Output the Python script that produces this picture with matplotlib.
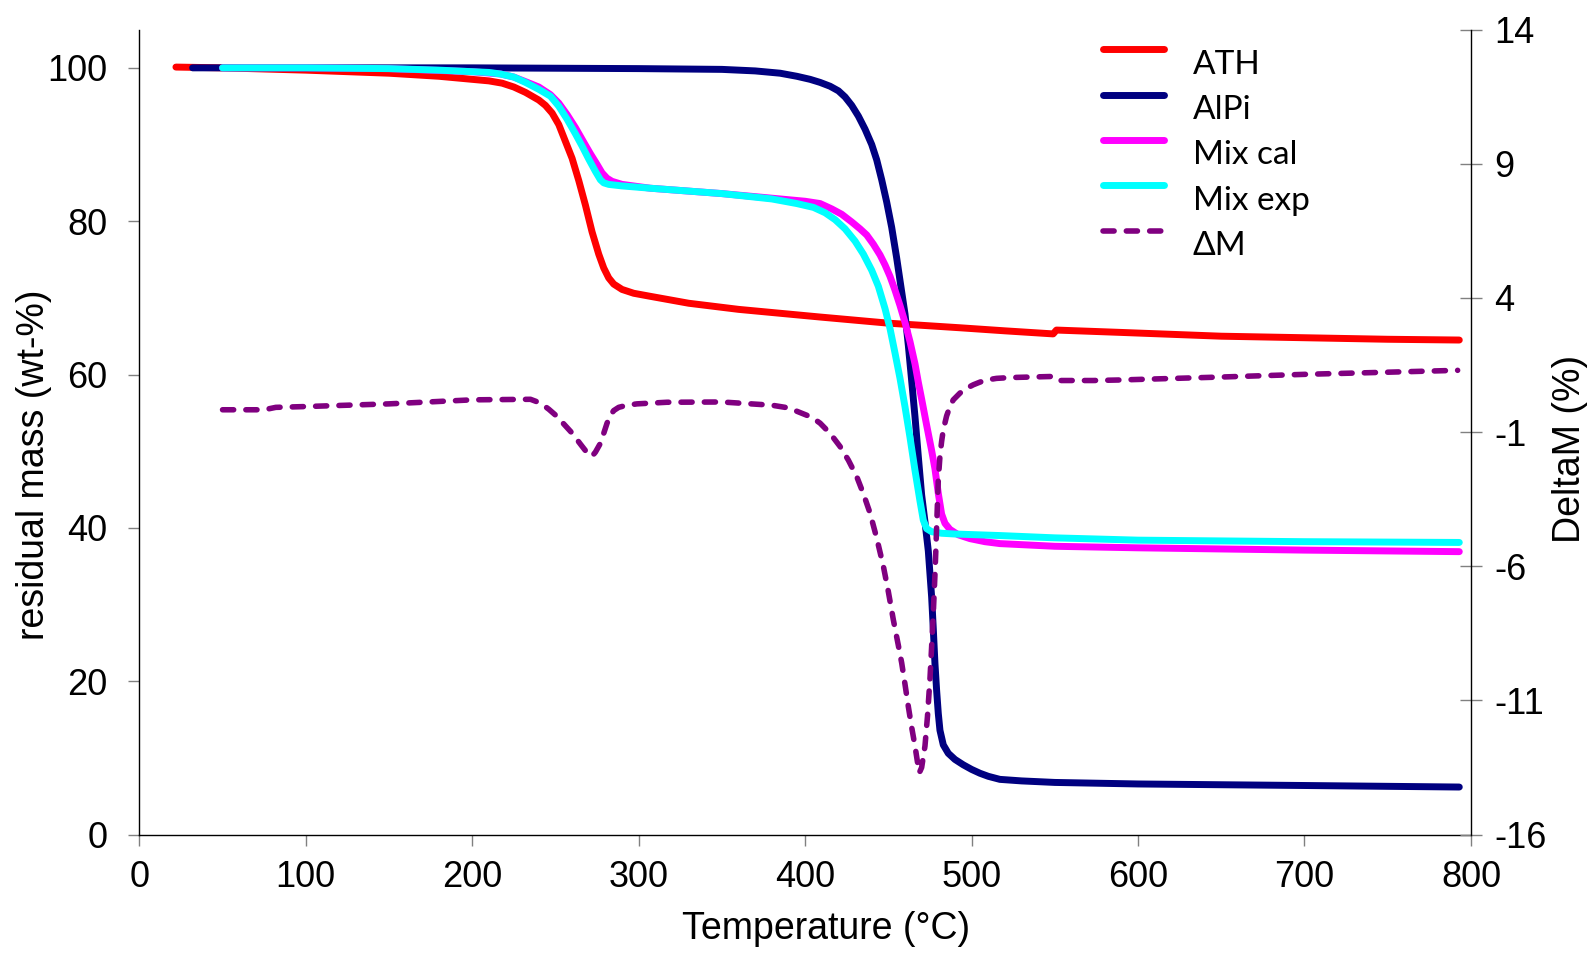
import numpy as np
import matplotlib
matplotlib.use("Agg")
import matplotlib.pyplot as plt
from matplotlib.legend_handler import HandlerLine2D
from matplotlib.lines import Line2D

plt.rcParams["axes.unicode_minus"] = False

# Thermogravimetric curves (residual mass, wt-%)
ath_T = [22, 50, 100, 150, 180, 200, 210, 218, 225, 232, 236, 240, 244, 248, 252, 256,
         260, 264, 268, 272, 276, 279, 282, 285, 290, 297, 307, 330, 360, 409, 450, 493,
         520, 549, 551, 589, 650, 700, 750, 793]
ath_m = [100.1, 100.0, 99.7, 99.3, 98.9, 98.5, 98.3, 98.0, 97.5, 96.8, 96.3, 95.8, 95.1,
         94.1, 92.6, 90.4, 88.2, 85.3, 82.1, 78.6, 75.7, 73.9, 72.6, 71.8, 71.1, 70.6,
         70.2, 69.3, 68.5, 67.5, 66.7, 66.1, 65.7, 65.3, 65.8, 65.5, 65.0, 64.8, 64.6, 64.5]

alpi_T = [32, 100, 200, 300, 350, 370, 385, 395, 403, 409, 415, 420, 424, 428, 432, 436,
          440, 443, 446, 449, 452, 455, 458, 460, 462, 464, 466, 468, 470, 472, 474, 476,
          477, 478, 479, 480, 481, 483, 486, 490, 495, 500, 505, 510, 517, 530, 550, 600,
          700, 793]
alpi_m = [100.0, 100.0, 100.0, 99.9, 99.8, 99.6, 99.3, 98.9, 98.5, 98.1, 97.6, 97.0,
          96.2, 95.1, 93.7, 92.0, 90.0, 88.0, 85.4, 82.5, 79.2, 75.2, 70.8, 67.9, 63.8,
          59.2, 54.5, 49.3, 44.3, 40.8, 37.0, 31.0, 26.8, 22.3, 18.8, 15.8, 13.6, 11.7,
          10.6, 9.8, 9.1, 8.5, 8.0, 7.6, 7.2, 7.0, 6.8, 6.6, 6.4, 6.2]

mixcal_T = [50, 100, 150, 200, 217, 225, 232, 240, 247, 252, 257, 262, 267, 271, 275, 278,
            281, 284, 290, 307, 350, 380, 400, 409, 416, 422, 428, 433, 437, 441, 445, 448,
            451, 454, 457, 460, 463, 466, 468, 470, 473, 476, 478, 480, 482, 484, 487, 492,
            499, 508, 517, 550, 600, 700, 793]
mixcal_m = [100.0, 100.0, 99.9, 99.5, 99.2, 98.8, 98.2, 97.5, 96.5, 95.4, 93.9, 92.2,
            90.3, 88.8, 87.4, 86.3, 85.6, 85.2, 84.8, 84.3, 83.6, 83.0, 82.6, 82.3, 81.6,
            80.9, 79.9, 79.0, 78.2, 77.0, 75.6, 74.3, 72.8, 71.0, 69.0, 66.8, 64.3, 61.4,
            59.0, 56.8, 53.4, 50.1, 47.7, 44.5, 41.8, 40.6, 39.8, 39.1, 38.6, 38.2, 37.95,
            37.6, 37.4, 37.1, 36.9]

mixexp_T = [50, 100, 150, 180, 200, 210, 217, 225, 232, 240, 247, 252, 257, 262, 266, 270,
            274, 277, 279, 282, 290, 307, 350, 380, 395, 405, 412, 418, 424, 430, 435, 440,
            444, 448, 451, 454, 457, 460, 463, 466, 469, 471, 473, 476, 482, 490, 517, 550,
            600, 700, 793]
mixexp_m = [100.0, 100.0, 99.9, 99.7, 99.5, 99.4, 99.2, 98.8, 98.1, 97.2, 96.3, 95.0,
            93.3, 91.4, 89.8, 88.1, 86.5, 85.4, 85.0, 84.8, 84.6, 84.3, 83.6, 82.9, 82.3,
            81.8, 81.1, 80.2, 79.0, 77.4, 75.7, 73.6, 71.5, 68.6, 66.0, 62.8, 59.5, 55.8,
            51.8, 47.5, 43.5, 41.0, 39.9, 39.5, 39.3, 39.2, 39.0, 38.7, 38.4, 38.2, 38.1]

# Difference between measured and calculated mixture (%)
dm_T = [50, 75, 82, 100, 150, 200, 235, 241, 246, 251, 255, 260, 265, 270, 272, 274, 277,
        279, 281, 283, 285, 288, 293, 299, 317, 350, 380, 390, 398, 404, 409, 415, 421,
        426, 431, 435, 439, 443, 447, 450, 453, 456, 458, 460, 462, 464, 466, 467.5, 468.6,
        470, 471, 472, 473.5, 475, 476, 477, 478, 478.6, 479.3, 480, 481, 482, 483, 485,
        487, 489, 493, 497, 501, 505, 509, 515, 523, 548, 551, 573, 589, 650, 700, 750, 792]
dm_v = [-0.17, -0.17, -0.08, -0.05, 0.05, 0.2, 0.22, 0.08, -0.15, -0.42, -0.7, -1.04,
        -1.45, -1.85, -1.9, -1.75, -1.42, -1.05, -0.67, -0.38, -0.2, -0.08, 0.0, 0.05,
        0.11, 0.12, 0.0, -0.1, -0.3, -0.45, -0.67, -1.05, -1.54, -2.05, -2.66, -3.3, -4.02,
        -4.95, -6.0, -6.95, -8.0, -8.95, -9.6, -10.4, -11.23, -12.0, -12.7, -13.3, -13.7,
        -13.5, -13.1, -12.7, -11.6, -10.2, -9.0, -7.75, -6.3, -5.27, -4.0, -2.78, -1.9,
        -1.35, -0.92, -0.4, -0.05, 0.2, 0.45, 0.63, 0.76, 0.86, 0.94, 1.0, 1.03, 1.07,
        0.92, 0.92, 0.94, 1.05, 1.15, 1.23, 1.3]

x_ticks = list(range(0, 801, 100))
left_ticks = list(range(0, 101, 20))
right_ticks = list(range(-16, 15, 5))

ARIAL = "Liberation Sans"

fig = plt.figure(figsize=(15.94, 9.55), dpi=100)
ax = fig.add_axes([0.0874, 0.1261, 0.8354, 0.8430])
ax2 = ax.twinx()

common = dict(lw=5, solid_capstyle="round", solid_joinstyle="round")
ax.plot(ath_T, ath_m, color="#FF0000", label="ATH", **common)
ax.plot(alpi_T, alpi_m, color="#000080", label="AlPi", **common)
ax.plot(mixcal_T, mixcal_m, color="#FF00FF", label="Mix cal", **common)
ax.plot(mixexp_T, mixexp_m, color="#00FFFF", label="Mix exp", **common)
ax2.plot(dm_T, dm_v, color="#800080", lw=4, linestyle=(0, (2.0, 2.2)),
         dash_capstyle="round", solid_joinstyle="round", label="\u0394M")

ax.set_xlim(0, 800)
ax.set_ylim(0, 105)
ax2.set_ylim(-16, 14)
ax.set_xticks(x_ticks)
ax.set_yticks(left_ticks)
ax2.set_yticks(right_ticks)

for a in (ax, ax2):
    a.spines["top"].set_visible(False)
    for s in a.spines.values():
        s.set_linewidth(1.0)
        s.set_color("black")
ax.spines["right"].set_visible(False)
ax2.spines["left"].set_visible(False)
ax2.spines["bottom"].set_visible(False)

ax.tick_params(axis="x", direction="out", length=8, width=1, color="#808080",
               labelsize=26, pad=10)
ax.tick_params(axis="y", direction="out", length=8, width=1, color="#808080",
               labelsize=26, pad=15)
ax2.tick_params(axis="y", direction="inout", length=16, width=1, color="#808080",
                labelsize=26, pad=9)
for lab in ax.get_xticklabels() + ax.get_yticklabels() + ax2.get_yticklabels():
    lab.set_fontfamily(ARIAL)

ax.set_xlabel("Temperature (\u00b0C)", fontsize=27, fontfamily=ARIAL)
ax.set_ylabel("residual mass (wt-%)", fontsize=27, fontfamily=ARIAL)
ax2.set_ylabel("DeltaM (%)", fontsize=27, fontfamily=ARIAL)
ax.xaxis.set_label_coords(0.516, -0.095)
ax.yaxis.set_label_coords(-0.0656, 0.459)
ax2.yaxis.set_label_coords(1.061, 0.479)


class RaisedLine(HandlerLine2D):
    """Legend line drawn slightly above the text centre."""

    def __init__(self, shift=9.0, **kw):
        super().__init__(**kw)
        self.shift = shift

    def create_artists(self, legend, orig_handle, xdescent, ydescent, width, height,
                       fontsize, trans):
        artists = super().create_artists(legend, orig_handle, xdescent, ydescent,
                                         width, height, fontsize, trans)
        for art in artists:
            if isinstance(art, Line2D):
                art.set_ydata(np.asarray(art.get_ydata(), dtype=float) + self.shift)
        return artists


h1, l1 = ax.get_legend_handles_labels()
h2, l2 = ax2.get_legend_handles_labels()
handles = h1 + h2
labels = l1 + l2
leg = ax2.legend(handles, labels, loc="upper left", bbox_to_anchor=(0.7235, 0.975),
                 frameon=False, borderpad=0, borderaxespad=0, handlelength=1.84,
                 handletextpad=0.86, labelspacing=0.46,
                 prop={"family": "Lato", "size": 24},
                 handler_map={Line2D: RaisedLine(shift=9.0)})

fig.savefig("out.png", dpi=100, facecolor="white")
